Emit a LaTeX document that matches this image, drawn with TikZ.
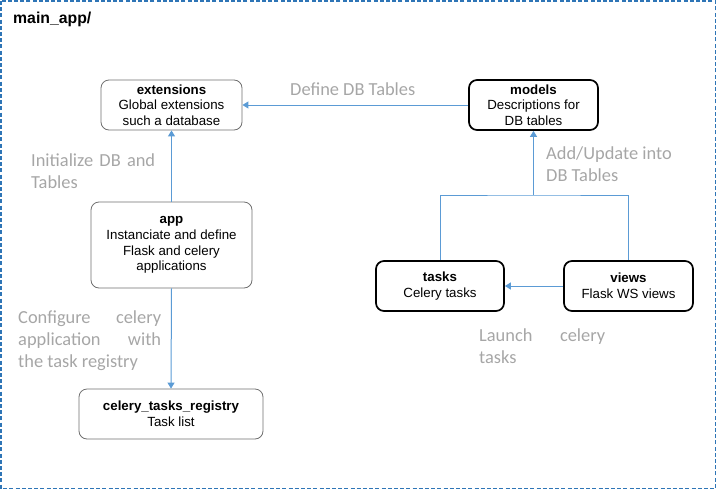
\documentclass[tikz,border=0pt]{standalone}
\usepackage{fontspec}
\setmainfont{Liberation Sans}
\newfontfamily\lblfont{Carlito}
\usetikzlibrary{arrows.meta}
\definecolor{frameblue}{HTML}{2E75B6}
\definecolor{arrowblue}{HTML}{5B9BD5}
\definecolor{lblgray}{HTML}{A6A6A6}
\definecolor{boxgray}{HTML}{6F6F6F}
\newcommand{\lblsize}{\lblfont\fontsize{18.4}{22.2}\selectfont}
\tikzset{
  modbox/.style={rounded corners=8pt, align=center, inner sep=0pt,
     font=\fontsize{13.3}{15.7}\selectfont, text=black},
  lightbox/.style={modbox, draw=boxgray, line width=0.8pt},
  heavybox/.style={modbox, draw=black, line width=1.7pt},
  conn/.style={draw=arrowblue, line width=1pt},
  arr/.style={conn, -{Triangle[width=7pt,length=6pt]}},
  lbl/.style={inner sep=0pt, text=lblgray, font=\lblsize, anchor=base west},
}
\begin{document}
\begin{tikzpicture}[x=1pt,y=-1pt]
\useasboundingbox (0,0) rectangle (717,490);
\draw[frameblue, line width=1.3pt, dash pattern=on 4pt off 2.2pt] (1,1) rectangle (715.5,488.5);
\node[anchor=base west, inner sep=0pt, font=\fontsize{15.8}{18}\selectfont\bfseries] (title) at (13,23) {main\_app/};

\node[lightbox, minimum width=141pt, minimum height=50pt] (ext) at (171.5,105)
  {\textbf{extensions}\\Global extensions\\such a database};
\node[heavybox, minimum width=129pt, minimum height=50pt] (models) at (533.5,105)
  {\textbf{models}\\Descriptions for\\DB tables};
\node[lightbox, minimum width=161pt, minimum height=86pt] (app) at (171.5,245)
  {\textbf{app}\\Instanciate and define\\Flask and celery\\applications};
\node[lightbox, minimum width=184pt, minimum height=50pt] (reg) at (171,414)
  {\textbf{celery\_tasks\_registry}\\Task list};
\node[heavybox, minimum width=128pt, minimum height=50pt] (tasks) at (440,286)
  {\textbf{tasks}\\Celery tasks};
\node[heavybox, minimum width=129pt, minimum height=50pt] (views) at (628.5,286)
  {\textbf{views}\\Flask WS views};

\coordinate (j) at (533.5,195);
\draw[arr] (models.west) -- (ext.east);
\draw[arr] (app.north) -- (ext.south);
\draw[arr] (app.south) -- (reg.north);
\draw[arr] (views.west) -- (tasks.east);
\draw[conn] (tasks.north) |- (j) -| (views.north);
\draw[arr] (j) -- (models.south);

\node[lbl] (l1) at (290,95) {Define DB Tables};
\node[lbl] (l2) at (31,166) {\parbox[t]{124pt}{\lblsize\makebox[124pt][s]{Initialize DB and}\\Tables}};
\node[lbl] (l3) at (546,159) {\parbox[t]{135pt}{\lblsize Add/Update into\\DB Tables}};
\node[lbl] (l4) at (18,323) {\parbox[t]{143pt}{\lblsize\makebox[143pt][s]{Configure celery}\\\makebox[143pt][s]{application with}\\the task registry}};
\node[lbl] (l5) at (479,341) {\parbox[t]{126pt}{\lblsize\makebox[126pt][s]{Launch celery}\\tasks}};
\end{tikzpicture}
\end{document}
